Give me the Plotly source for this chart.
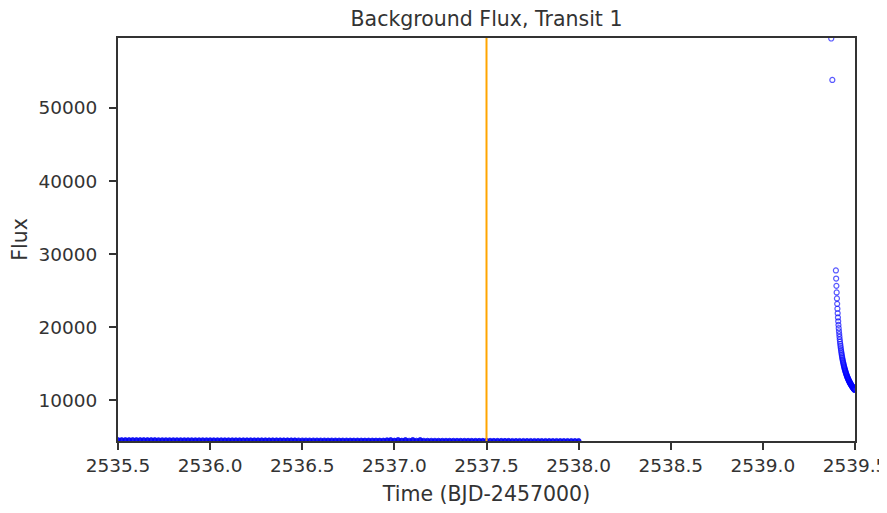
import plotly.graph_objects as go

# ---- data ----
flat_time = [
    2535.50, 2535.52, 2535.54, 2535.56, 2535.58, 2535.60, 2535.62, 2535.64, 2535.66, 2535.68,
    2535.70, 2535.72, 2535.74, 2535.76, 2535.78, 2535.80, 2535.82, 2535.84, 2535.86, 2535.88,
    2535.90, 2535.92, 2535.94, 2535.96, 2535.98, 2536.00, 2536.02, 2536.04, 2536.06, 2536.08,
    2536.10, 2536.12, 2536.14, 2536.16, 2536.18, 2536.20, 2536.22, 2536.24, 2536.26, 2536.28,
    2536.30, 2536.32, 2536.34, 2536.36, 2536.38, 2536.40, 2536.42, 2536.44, 2536.46, 2536.48,
    2536.50, 2536.52, 2536.54, 2536.56, 2536.58, 2536.60, 2536.62, 2536.64, 2536.66, 2536.68,
    2536.70, 2536.72, 2536.74, 2536.76, 2536.78, 2536.80, 2536.82, 2536.84, 2536.86, 2536.88,
    2536.90, 2536.92, 2536.94, 2536.96, 2536.98, 2537.00, 2537.02, 2537.04, 2537.06, 2537.08,
    2537.10, 2537.12, 2537.14, 2537.16, 2537.18, 2537.20, 2537.22, 2537.24, 2537.26, 2537.28,
    2537.30, 2537.32, 2537.34, 2537.36, 2537.38, 2537.40, 2537.42, 2537.44, 2537.46, 2537.48,
    2537.50, 2537.52, 2537.54, 2537.56, 2537.58, 2537.60, 2537.62, 2537.64, 2537.66, 2537.68,
    2537.70, 2537.72, 2537.74, 2537.76, 2537.78, 2537.80, 2537.82, 2537.84, 2537.86, 2537.88,
    2537.90, 2537.92, 2537.94, 2537.96, 2537.98, 2538.00,
]
flat_flux = [
    4561, 4559, 4562, 4558, 4560, 4559, 4557, 4560, 4558, 4557,
    4556, 4554, 4555, 4553, 4552, 4554, 4551, 4550, 4552, 4549,
    4548, 4546, 4547, 4545, 4544, 4546, 4543, 4541, 4542, 4540,
    4539, 4537, 4538, 4536, 4535, 4533, 4534, 4532, 4531, 4532,
    4530, 4528, 4529, 4527, 4526, 4524, 4525, 4523, 4522, 4521,
    4520, 4519, 4517, 4518, 4516, 4514, 4515, 4513, 4511, 4512,
    4510, 4508, 4509, 4507, 4505, 4506, 4504, 4502, 4503, 4501,
    4500, 4498, 4497, 4540, 4560, 4493, 4575, 4490, 4568, 4487,
    4580, 4484, 4570, 4481, 4479, 4478, 4477, 4476, 4474, 4473,
    4472, 4471, 4469, 4468, 4467, 4466, 4464, 4463, 4462, 4461,
    4460, 4459, 4458, 4457, 4456, 4455, 4454, 4453, 4452, 4451,
    4451, 4450, 4449, 4449, 4448, 4447, 4447, 4446, 4445, 4445,
    4444, 4444, 4443, 4443, 4442, 4442,
]

spike_time = [2539.371, 2539.377]
spike_flux = [59500, 53830]

curve_time = [
    2539.3963, 2539.3977, 2539.3991, 2539.4005, 2539.4019, 2539.4032, 2539.4046, 2539.4060,
    2539.4074, 2539.4088, 2539.4102, 2539.4116, 2539.4130, 2539.4144, 2539.4157, 2539.4171,
    2539.4185, 2539.4199, 2539.4213, 2539.4227, 2539.4241, 2539.4255, 2539.4269, 2539.4282,
    2539.4296, 2539.4310, 2539.4324, 2539.4338, 2539.4352, 2539.4366, 2539.4380, 2539.4394,
    2539.4407, 2539.4421, 2539.4435, 2539.4449, 2539.4463, 2539.4477, 2539.4491, 2539.4505,
    2539.4519, 2539.4532, 2539.4546, 2539.4560, 2539.4574, 2539.4588, 2539.4602, 2539.4616,
    2539.4630, 2539.4644, 2539.4657, 2539.4671, 2539.4685, 2539.4699, 2539.4713, 2539.4727,
    2539.4741, 2539.4755, 2539.4769, 2539.4782, 2539.4796, 2539.4810, 2539.4824, 2539.4838,
    2539.4852, 2539.4866, 2539.4880, 2539.4894, 2539.4907, 2539.4921, 2539.4935, 2539.4949,
    2539.4963, 2539.4977, 2539.4991,
]
curve_flux = [
    27770, 26660, 25660, 24760, 23940, 23200, 22530, 21910,
    21340, 20810, 20320, 19870, 19450, 19060, 18690, 18340,
    18020, 17720, 17430, 17160, 16900, 16660, 16430, 16210,
    16000, 15800, 15610, 15430, 15260, 15090, 14930, 14780,
    14640, 14500, 14360, 14230, 14110, 13990, 13870, 13760,
    13660, 13550, 13450, 13350, 13260, 13170, 13080, 13000,
    12920, 12840, 12760, 12680, 12610, 12540, 12470, 12400,
    12340, 12280, 12210, 12150, 12100, 12040, 11980, 11930,
    11880, 11820, 11770, 11730, 11680, 11630, 11580, 11540,
    11500, 11450, 11410,
]

transit_time = 2537.5
x_ticks = [2535.5, 2536.0, 2536.5, 2537.0, 2537.5, 2538.0, 2538.5, 2539.0, 2539.5]
y_ticks = [10000, 20000, 30000, 40000, 50000]
x_range = [2535.5, 2539.5]
y_range = [4436, 59570]

# ---- figure ----
FONT = "DejaVu Sans"
INK = "#333333"
BLUE = "rgba(0,0,255,0.65)"

fig = go.Figure()
# dense quiescent stretch: thousands of overlapping samples render as a solid band
fig.add_trace(go.Scatter(
    x=flat_time, y=flat_flux, mode="markers",
    marker=dict(symbol="circle", size=5, color="rgba(0,0,235,0.9)",
                line=dict(width=0.8, color="rgba(0,0,255,0.9)")),
    showlegend=False,
))
fig.add_trace(go.Scatter(
    x=spike_time + curve_time, y=spike_flux + curve_flux, mode="markers",
    marker=dict(symbol="circle-open", size=5, color=BLUE,
                line=dict(width=1.2, color=BLUE)),
    showlegend=False,
))

fig.add_vline(x=transit_time, line=dict(color="#FFA500", width=2))

axis_common = dict(
    showgrid=False, zeroline=False, automargin=False,
    showline=True, linecolor=INK, linewidth=2, mirror=True,
    ticks="outside", ticklen=7, tickwidth=1.6, tickcolor=INK,
    tickfont=dict(family=FONT, size=18.5, color=INK),
)

fig.update_layout(
    width=880, height=506,
    paper_bgcolor="white", plot_bgcolor="white",
    margin=dict(l=110, r=33, t=30, b=73, autoexpand=False),
    title=dict(text="Background Flux, Transit 1", x=0.5, xanchor="center",
               xref="paper", y=0.979, yanchor="middle", yref="container",
               font=dict(family=FONT, size=20.5, color=INK)),
    xaxis=dict(range=x_range, tickvals=x_ticks, tickformat=".1f",
               title=dict(text="Time (BJD-2457000)", standoff=11,
                          font=dict(family=FONT, size=20.5, color=INK)),
               **axis_common),
    yaxis=dict(range=y_range, tickvals=y_ticks, tickformat="d",
               ticklabelstandoff=8,
               title=dict(text="Flux", standoff=8,
                          font=dict(family=FONT, size=20.5, color=INK)),
               **axis_common),
)

fig.write_html("out.html")
